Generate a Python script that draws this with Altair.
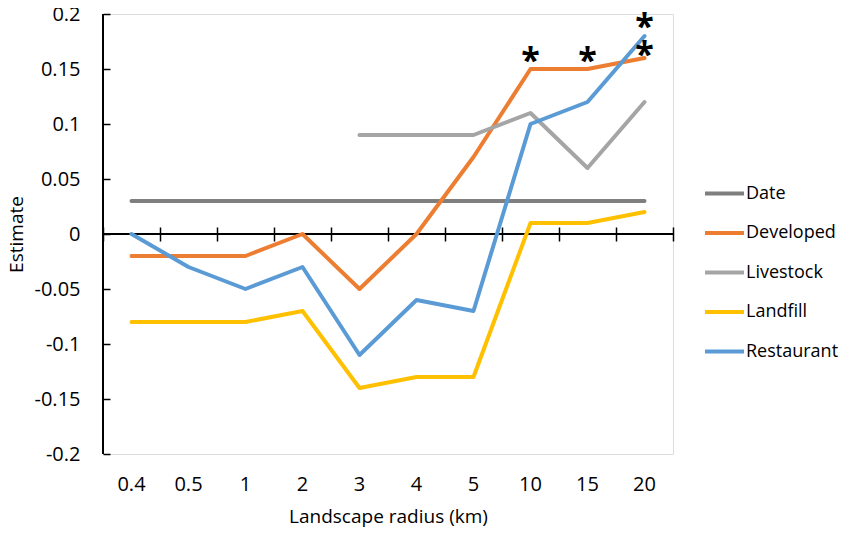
import altair as alt
import pandas as pd

radius = ["0.4", "0.5", "1", "2", "3", "4", "5", "10", "15", "20"]
series_names = ["Date", "Developed", "Livestock", "Landfill", "Restaurant"]
colors = ["#7f7f7f", "#ed7d31", "#a5a5a5", "#ffc000", "#5b9bd5"]

date_vals = [0.03, 0.03, 0.03, 0.03, 0.03, 0.03, 0.03, 0.03, 0.03, 0.03]
developed_vals = [-0.02, -0.02, -0.02, 0.0, -0.05, 0.0, 0.07, 0.15, 0.15, 0.16]
livestock_vals = [None, None, None, None, 0.09, 0.09, 0.09, 0.11, 0.06, 0.12]
landfill_vals = [-0.08, -0.08, -0.08, -0.07, -0.14, -0.13, -0.13, 0.01, 0.01, 0.02]
restaurant_vals = [0.0, -0.03, -0.05, -0.03, -0.11, -0.06, -0.07, 0.10, 0.12, 0.18]

star_x = ["10", "15", "20", "20"]
star_y = [0.1645, 0.1645, 0.1955, 0.17]

y_ticks = [-0.2, -0.15, -0.1, -0.05, 0.0, 0.05, 0.1, 0.15, 0.2]

FONT = "Open Sans"

rows = []
for name, vals in zip(series_names, [date_vals, developed_vals, livestock_vals, landfill_vals, restaurant_vals]):
    for r, v in zip(radius, vals):
        if v is not None:
            rows.append({"radius": r, "estimate": v, "series": name, "order": series_names.index(name)})
df = pd.DataFrame(rows)
stars = pd.DataFrame({"radius": star_x, "estimate": star_y, "label": ["*"] * len(star_x)})

xscale = alt.Scale(domain=radius, paddingInner=0, paddingOuter=0)
yscale = alt.Scale(domain=[-0.2, 0.2], nice=False, zero=False)

lines = alt.Chart(df).mark_line(strokeWidth=4, strokeCap="round", strokeJoin="round").encode(
    x=alt.X("radius:N", scale=xscale, sort=radius,
            axis=alt.Axis(orient="bottom", title="Landscape radius (km)", labelAngle=0,
                          domain=False, ticks=False, labelPadding=20, titlePadding=13,
                          labelFontSize=20, titleFontSize=19, labelFont=FONT, titleFont=FONT,
                          labelColor="#000", titleColor="#000", titleFontWeight="normal")),
    y=alt.Y("estimate:Q", scale=yscale,
            axis=alt.Axis(values=y_ticks, labelExpr="'' + round(datum.value*100)/100",
                          title="Estimate", grid=False, domain=False, offset=-7, tickSize=7,
                          tickColor="#000", tickWidth=1.5, labelPadding=23, titlePadding=8,
                          labelFontSize=20, titleFontSize=19, labelFont=FONT, titleFont=FONT,
                          labelColor="#000", titleColor="#000", titleFontWeight="normal")),
    color=alt.Color("series:N", scale=alt.Scale(domain=series_names, range=colors),
                    legend=alt.Legend(title=None, orient="none", legendX=600, legendY=158,
                                      symbolType="stroke", symbolSize=1521, symbolStrokeWidth=4,
                                      labelFontSize=18, labelFont=FONT, labelColor="#000",
                                      labelOffset=0, rowPadding=8.5, padding=0)),
    order=alt.Order("order:Q"),
)

star_text = alt.Chart(stars).mark_text(fontSize=34, font=FONT, fontWeight="bold", color="#000",
                                       baseline="alphabetic", dy=19).encode(
    x=alt.X("radius:N", scale=xscale, sort=radius, axis=None),
    y=alt.Y("estimate:Q", scale=yscale),
    text="label:N",
)

zero_rule = alt.Chart(df).mark_rule(color="#000", strokeWidth=1.5).encode(y=alt.datum(0))
left_rule = alt.Chart(df).mark_rule(color="#000", strokeWidth=1.5).encode(x=alt.value(0))

tick_layer = alt.Chart(df).mark_point(opacity=0).encode(
    x=alt.X("radius:N", scale=xscale, sort=radius,
            axis=alt.Axis(orient="bottom", title=None, labels=False, domain=False, ticks=True,
                          tickBand="extent", tickSize=14, tickColor="#000", tickWidth=1.5,
                          offset=-227)),
    y=alt.Y("estimate:Q", scale=yscale),
)

chart = alt.layer(zero_rule, left_rule, tick_layer, lines, star_text).resolve_axis(
    x="independent"
).properties(
    width=570, height=440,
    autosize=alt.AutoSizeParams(type="none"),
    padding={"left": 95, "top": 6, "right": 170, "bottom": 80},
).configure_view(stroke=None).configure(background="white")

chart.save("out.html", embed_options={"renderer": "svg", "actions": False})
